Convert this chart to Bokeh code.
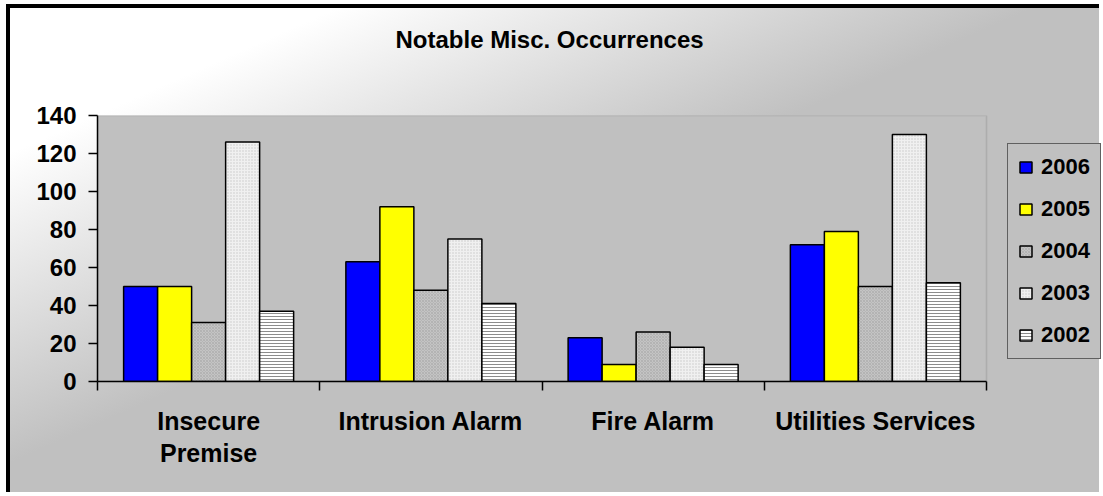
from bokeh.plotting import figure
from bokeh.models import (ColumnDataSource, Range1d, FixedTicker, LinearAxis,
                          Legend, LegendItem, Title, BoxAnnotation)
from bokeh.transform import dodge
from bokeh.embed import file_html
from bokeh.resources import INLINE

# ---- data ----
categories = ["Insecure Premise", "Intrusion Alarm", "Fire Alarm", "Utilities Services"]
tick_labels = ["Insecure\nPremise", "Intrusion Alarm", "Fire Alarm", "Utilities Services"]
years = ["2006", "2005", "2004", "2003", "2002"]
v2006 = [50, 63, 23, 72]
v2005 = [50, 92, 9, 79]
v2004 = [31, 48, 26, 50]
v2003 = [126, 75, 18, 130]
v2002 = [37, 41, 9, 52]
y_ticks = [0, 20, 40, 60, 80, 100, 120, 140]

series = [v2006, v2005, v2004, v2003, v2002]

styles = {
    "2006": dict(fill_color="#0000ff"),
    "2005": dict(fill_color="#ffff00"),
    "2004": dict(fill_color="#c4c4c4", hatch_pattern="diagonal_cross",
                 hatch_color="#a8a8a8", hatch_scale=3, hatch_weight=0.6),
    "2003": dict(fill_color="#f0f0f0", hatch_pattern="dot",
                 hatch_color="#c8c8c8", hatch_scale=3, hatch_weight=1),
    "2002": dict(fill_color="#ffffff", hatch_pattern="horizontal_line",
                 hatch_color="#8c8c8c", hatch_scale=3, hatch_weight=1),
}

FONT = "Liberation Sans"

# layout geometry (pixels): plot area 889 px wide, legend area to its right
AREA_W = 889
EXTRA_W = 117
ncat = len(categories)
x_end = ncat * (AREA_W + EXTRA_W) / AREA_W
y_max = y_ticks[-1]

centers = [i + 0.5 for i in range(ncat)]
data = {"xc": centers}
for yname, vals in zip(years, series):
    data["y" + yname] = vals
src = ColumnDataSource(data)

p = figure(width=1093, height=488, output_backend="svg", toolbar_location=None,
           x_range=Range1d(0, x_end), y_range=Range1d(0, y_max),
           min_border_left=87, min_border_right=0, min_border_top=107,
           min_border_bottom=115, x_axis_type=None, y_axis_type=None)

p.border_fill_color = None
p.background_fill_color = "#c0c0c0"
p.outline_line_color = None
p.styles = {
    "background": "linear-gradient(to bottom right, #ffffff 15%, #c0c0c0 47%)",
    "border-left": "4px solid black",
    "border-top": "4px solid black",
    "position": "relative",
    "left": "6px",
    "top": "4px",
}

# grid
p.ygrid.ticker = FixedTicker(ticks=[t for t in y_ticks if t < y_max])
p.ygrid.grid_line_color = "black"
p.ygrid.grid_line_width = 1.2
p.xgrid.grid_line_color = None

# hide grid outside the plot area (legend zone) and draw plot-area outline
p.add_layout(BoxAnnotation(left=ncat, fill_color="#c0c0c0", fill_alpha=1,
                           line_color=None, level="underlay"))
p.add_layout(BoxAnnotation(right=ncat, fill_color=None, fill_alpha=0,
                           line_color="#808080", line_width=1.5, level="underlay"))

# axes
yaxis = LinearAxis(ticker=FixedTicker(ticks=y_ticks, minor_ticks=[]))
yaxis.axis_line_color = "black"
yaxis.axis_line_width = 1.5
yaxis.major_tick_out = 9
yaxis.major_tick_in = 0
yaxis.major_tick_line_width = 1.5
yaxis.minor_tick_line_color = None
yaxis.major_label_standoff = 12
yaxis.major_label_text_font = FONT
yaxis.major_label_text_font_style = "bold"
yaxis.major_label_text_font_size = "24px"
yaxis.major_label_text_color = "black"
p.add_layout(yaxis, "left")

xaxis = LinearAxis(ticker=FixedTicker(ticks=centers,
                                      minor_ticks=list(range(ncat + 1))),
                   bounds=(0, ncat))
xaxis.major_label_overrides = {c: t for c, t in zip(centers, tick_labels)}
xaxis.axis_line_color = "black"
xaxis.axis_line_width = 1.5
xaxis.major_tick_out = 0
xaxis.major_tick_in = 0
xaxis.minor_tick_out = 9
xaxis.minor_tick_in = 0
xaxis.minor_tick_line_width = 1.5
xaxis.minor_tick_line_color = "black"
xaxis.major_label_standoff = 16
xaxis.major_label_text_font = FONT
xaxis.major_label_text_font_style = "bold"
xaxis.major_label_text_font_size = "25px"
xaxis.major_label_text_color = "black"
xaxis.major_label_text_line_height = 1.15
p.add_layout(xaxis, "below")

# bars
bw = 0.153
items = []
for j, yname in enumerate(years):
    r = p.vbar(x=dodge("xc", (j - 2) * bw, range=p.x_range), top="y" + yname,
               width=bw, source=src, line_color="black", line_width=1.5,
               **styles[yname])
    items.append(LegendItem(label=yname, renderers=[r]))

legend = Legend(items=items, location=(AREA_W + 21, 22))
legend.background_fill_color = "#c0c0c0"
legend.background_fill_alpha = 1
legend.border_line_color = "black"
legend.border_line_width = 1.5
legend.label_text_font = FONT
legend.label_text_font_style = "bold"
legend.label_text_font_size = "22px"
legend.label_text_color = "black"
legend.glyph_width = 15
legend.glyph_height = 14
legend.label_height = 25
legend.label_standoff = 8
legend.spacing = 16
legend.padding = 10
legend.margin = 0
p.add_layout(legend, "center")

# spacer between frame and title, then the title above it
p.add_layout(Title(text=" ", text_font_size="10px", standoff=50), "above")
title = Title(text="Notable Misc. Occurrences", align="left", offset=298,
              vertical_align="bottom", standoff=0,
              text_font=FONT, text_font_style="bold",
              text_font_size="24px", text_color="black")
p.add_layout(title, "above")

open("out.html", "w").write(file_html(p, INLINE))
